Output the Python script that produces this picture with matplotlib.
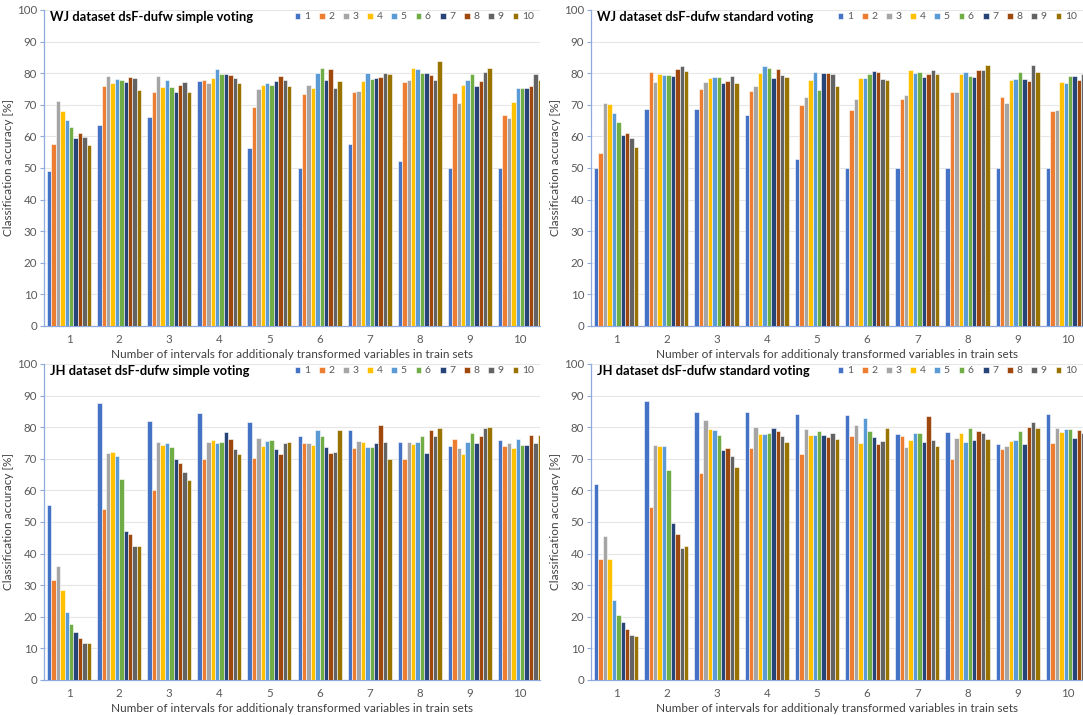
import numpy as np
import matplotlib
matplotlib.use("Agg")
import matplotlib.pyplot as plt

plt.rcParams['font.family'] = ['Lato', 'DejaVu Sans']

groups = [1, 2, 3, 4, 5, 6, 7, 8, 9, 10]
series_labels = ['1', '2', '3', '4', '5', '6', '7', '8', '9', '10']
colors = ['#4472C4', '#ED7D31', '#A5A5A5', '#FFC000', '#5B9BD5',
          '#70AD47', '#264478', '#9E480E', '#636363', '#997300']

# values[group][series]
wj_simple = [
    [49.0, 57.6, 71.2, 67.9, 65.1, 63.0, 59.6, 61.0, 59.7, 57.3],
    [63.7, 75.8, 79.1, 77.0, 78.3, 77.8, 77.2, 78.8, 78.4, 74.7],
    [66.0, 74.0, 79.2, 75.5, 77.9, 75.5, 74.1, 76.4, 77.2, 74.1],
    [77.4, 78.0, 76.8, 78.4, 81.3, 79.9, 79.9, 79.3, 78.6, 76.8],
    [56.2, 69.3, 74.9, 76.3, 76.9, 76.3, 77.5, 79.2, 78.0, 76.1],
    [50.1, 73.5, 76.2, 75.2, 80.0, 81.7, 78.0, 81.3, 75.4, 77.6],
    [57.7, 74.1, 74.5, 77.5, 80.2, 78.3, 78.5, 78.8, 80.2, 79.9],
    [52.2, 77.3, 77.9, 81.5, 81.3, 80.0, 80.2, 79.3, 78.0, 84.0],
    [50.1, 73.8, 70.7, 76.4, 77.9, 79.6, 76.0, 77.5, 80.4, 81.7],
    [50.1, 66.7, 65.9, 70.8, 75.2, 75.2, 75.2, 75.8, 79.9, 78.0],
]
wj_standard = [
    [50.1, 54.8, 70.5, 70.1, 67.3, 64.5, 60.5, 61.0, 59.6, 56.7],
    [68.7, 80.4, 77.1, 79.9, 79.4, 79.4, 79.2, 81.3, 82.4, 80.6],
    [68.7, 75.1, 77.3, 78.6, 78.9, 78.9, 76.8, 77.6, 79.2, 77.0],
    [66.7, 74.5, 76.1, 80.2, 82.2, 81.7, 78.4, 81.4, 79.4, 78.8],
    [52.7, 70.0, 72.5, 78.0, 80.4, 74.8, 80.2, 80.2, 79.7, 76.1],
    [50.1, 68.3, 71.8, 78.6, 78.6, 79.6, 80.7, 80.4, 78.1, 78.0],
    [50.1, 71.7, 73.1, 81.1, 80.0, 80.5, 78.9, 79.8, 81.1, 79.7],
    [50.1, 74.1, 74.1, 79.8, 80.5, 79.2, 78.9, 80.9, 80.9, 82.7],
    [50.1, 72.6, 70.6, 77.7, 78.2, 80.5, 78.2, 77.4, 82.7, 80.4],
    [50.1, 67.9, 68.2, 77.1, 76.8, 79.2, 79.2, 78.0, 79.8, 79.0],
]
jh_simple = [
    [55.4, 31.7, 36.2, 28.5, 21.4, 17.6, 15.1, 13.3, 11.8, 11.8],
    [87.6, 54.1, 71.7, 72.3, 70.8, 63.5, 47.3, 46.3, 42.3, 42.3],
    [82.0, 60.2, 75.3, 74.4, 74.9, 73.8, 69.9, 68.7, 65.8, 63.3],
    [84.5, 69.9, 75.4, 75.9, 74.9, 75.3, 78.6, 76.2, 73.1, 71.6],
    [81.6, 70.3, 76.6, 74.1, 75.7, 75.9, 73.0, 71.4, 75.0, 75.3],
    [77.2, 74.9, 75.1, 74.4, 79.0, 77.3, 73.7, 71.9, 72.1, 79.1],
    [79.0, 73.3, 75.6, 75.4, 73.8, 73.8, 75.0, 80.8, 75.4, 69.8],
    [75.3, 70.0, 75.4, 74.6, 75.4, 77.2, 71.9, 79.2, 77.3, 79.9],
    [74.1, 76.4, 73.4, 71.5, 75.4, 78.1, 74.9, 77.2, 79.9, 80.2],
    [75.9, 74.1, 75.0, 73.5, 76.2, 74.4, 74.5, 77.5, 75.0, 77.5],
]
jh_standard = [
    [62.1, 38.3, 45.5, 38.3, 25.3, 20.5, 18.2, 16.0, 14.1, 13.9],
    [88.2, 54.7, 74.4, 74.0, 74.0, 66.6, 49.8, 46.3, 41.8, 42.3],
    [84.8, 65.5, 82.3, 79.4, 79.2, 77.4, 72.7, 73.3, 70.8, 67.4],
    [84.7, 73.4, 80.2, 78.0, 77.7, 78.2, 79.9, 78.8, 77.1, 75.4],
    [84.3, 71.4, 79.5, 77.4, 77.6, 78.8, 77.6, 76.9, 78.2, 76.4],
    [83.8, 77.3, 80.7, 75.1, 82.8, 78.8, 76.9, 74.7, 75.5, 79.6],
    [77.9, 77.3, 73.8, 75.8, 78.3, 78.2, 75.3, 83.6, 75.9, 74.1],
    [78.6, 70.0, 76.5, 78.3, 75.2, 79.9, 75.8, 78.8, 78.3, 76.3],
    [74.7, 73.2, 74.2, 75.5, 75.9, 78.8, 74.7, 80.2, 81.5, 79.8],
    [84.2, 74.9, 79.6, 78.5, 79.5, 79.3, 76.5, 79.0, 78.3, 78.0],
]

titles = ['WJ dataset dsF-dufw simple voting', 'WJ dataset dsF-dufw standard voting',
          'JH dataset dsF-dufw simple voting', 'JH dataset dsF-dufw standard voting']
datasets = [wj_simple, wj_standard, jh_simple, jh_standard]

W, H = 1083, 715
fig = plt.figure(figsize=(W / 100, H / 100), dpi=100)

# (left px, right px, top px, bottom px, xlim right)
boxes = [(44, 540, 10, 326, 10.4), (591, 1083, 10, 326, 10.3),
         (44, 540, 364, 680, 10.4), (591, 1083, 364, 680, 10.3)]

axis_col = '#8FAADC'
text_col = '#595959'
group_w = 0.88
bar_w = group_w / 10

for data, title, (l, r, t, b, xr) in zip(datasets, titles, boxes):
    ax = fig.add_axes([l / W, (H - b) / H, (r - l) / W, (b - t) / H])
    arr = np.array(data)
    x = np.array(groups, dtype=float)
    for s in range(10):
        ax.bar(x - group_w / 2 + bar_w * (s + 0.5), arr[:, s], width=bar_w,
               color=colors[s], edgecolor='white', linewidth=0.4,
               label=series_labels[s], zorder=3)
    ax.set_xlim(0.5, xr)
    ax.set_ylim(0, 100)
    ax.set_yticks(np.arange(0, 101, 10))
    ax.set_xticks(groups)
    ax.set_xticklabels([str(g) for g in groups])
    ax.yaxis.grid(True, color='#E6E6E6', linewidth=0.8, zorder=0)
    ax.set_axisbelow(True)
    for sp in ['top', 'right']:
        ax.spines[sp].set_visible(False)
    for sp in ['left', 'bottom']:
        ax.spines[sp].set_color(axis_col)
        ax.spines[sp].set_linewidth(0.9)
    ax.tick_params(axis='y', colors=text_col, labelsize=8.3, length=3, width=0.8,
                   direction='out', pad=2)
    ax.tick_params(axis='y', color=axis_col)
    ax.tick_params(axis='x', colors=text_col, labelsize=8.3, length=0, pad=6)
    ax.set_ylabel('Classification accuracy [%]', fontsize=8.5, color='#404040', labelpad=2)
    ax.set_xlabel('Number of intervals for additionaly transformed variables in train sets',
                  fontsize=8.5, color='#404040', labelpad=3)
    ax.text(0.012, 0.978, title, transform=ax.transAxes, fontsize=9.3, fontweight='bold',
            color='black', va='center', ha='left')
    leg = ax.legend(loc='center right', bbox_to_anchor=(1.0, 0.978), ncol=10,
                    frameon=False, fontsize=7.5, handlelength=0.55, handleheight=0.55,
                    handletextpad=0.35, columnspacing=0.85, borderaxespad=0.2)
    for txt in leg.get_texts():
        txt.set_color(text_col)

fig.savefig('out.png', dpi=100)
